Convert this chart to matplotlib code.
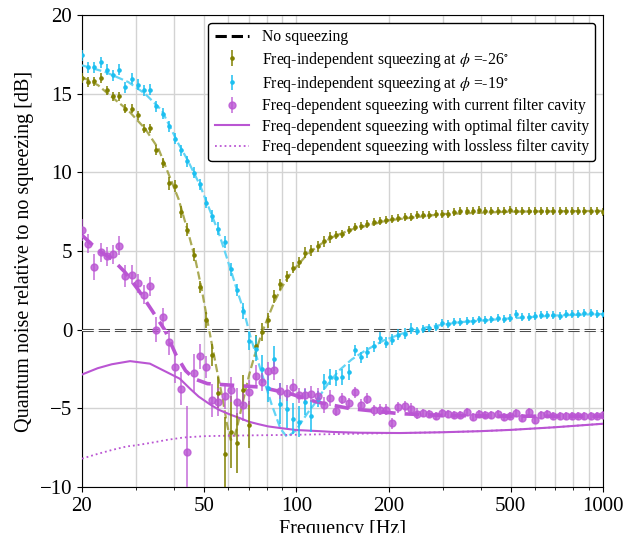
import numpy as np
import matplotlib
matplotlib.use('Agg')
import matplotlib.pyplot as plt
from matplotlib.ticker import FixedLocator, FixedFormatter, NullFormatter

plt.rcParams['font.family'] = ['Liberation Serif', 'DejaVu Serif']
plt.rcParams['mathtext.fontset'] = 'stix'
plt.rcParams['axes.unicode_minus'] = True

# measurement frequency bins [Hz]
freq = [20.0, 20.95, 21.95, 23.0, 24.09, 25.24, 26.45, 27.71, 29.03, 30.41,
        31.86, 33.38, 34.97, 36.64, 38.39, 40.22, 42.14, 44.15, 46.25, 48.46,
        50.77, 53.19, 55.72, 58.38, 61.16, 64.08, 67.14, 70.34, 73.69, 77.2,
        80.89, 84.74, 88.78, 93.01, 97.45, 102.1, 107.0, 112.0, 117.4, 123.0,
        128.9, 135.0, 141.4, 148.2, 155.3, 162.7, 170.4, 178.6, 187.1, 196.0,
        205.4, 215.1, 225.4, 236.1, 247.4, 259.2, 271.5, 284.5, 298.0, 312.2,
        327.1, 342.7, 359.0, 376.2, 394.1, 412.9, 432.5, 453.2, 474.8, 497.4,
        521.1, 545.9, 572.0, 599.2, 627.8, 657.7, 689.1, 721.9, 756.3, 792.4,
        830.2, 869.7, 911.2, 954.6, 1000.0]

# freq-independent squeezing, phi = -26 deg
fis26 = [16.0, 15.74, 15.79, 16.0, 15.21, 14.83, 14.83, 14.05, 14.05, 13.62,
         12.78, 12.8, 11.42, 10.6, 9.3, 9.12, 7.48, 6.36, 4.77, 2.71,
         0.6, -1.63, -4.0, -7.93, -6.51, -7.21, -3.86, -6.04, -1.06, -0.15,
         0.59, 2.12, 2.88, 3.39, 3.95, 4.3, 4.9, 5.04, 5.31, 5.63,
         5.87, 6.04, 6.1, 6.36, 6.5, 6.59, 6.69, 6.84, 6.93, 6.99,
         7.01, 7.09, 7.14, 7.18, 7.29, 7.29, 7.31, 7.33, 7.35, 7.35,
         7.48, 7.52, 7.52, 7.54, 7.61, 7.54, 7.54, 7.56, 7.56, 7.58,
         7.54, 7.56, 7.56, 7.56, 7.56, 7.56, 7.56, 7.56, 7.52, 7.54,
         7.56, 7.52, 7.52, 7.52, 7.48]
fis26_err = [0.3] * 14 + [0.4] * 6 + [0.5, 0.7, 1.0, 2.4, 2.3, 1.9, 1.0, 1.5, 0.7, 0.6,
             0.5, 0.4] + [0.35] * 9 + [0.25] * 44

# freq-independent squeezing, phi = -19 deg
fis19 = [17.44, 16.69, 16.69, 17.01, 16.53, 16.17, 16.53, 15.42, 15.96, 15.58,
         15.21, 15.26, 14.2, 13.73, 12.94, 12.14, 11.4, 10.7, 9.98, 9.25,
         8.07, 7.22, 6.42, 5.57, 3.84, 2.52, 1.17, -0.72, -1.2, -2.5,
         -3.7, -1.84, -4.7, -5.02, -5.65, -5.85, -4.6, -5.5, -4.4, -3.33,
         -3.01, -3.08, -3.01, -2.7, -1.32, -1.74, -1.42, -1.04, -0.53, -0.83,
         -0.64, -0.32, -0.25, 0.06, -0.06, 0.06, 0.1, 0.17, 0.42, 0.38,
         0.48, 0.48, 0.57, 0.53, 0.65, 0.61, 0.65, 0.74, 0.7, 0.74,
         0.99, 0.83, 0.83, 0.87, 0.95, 0.95, 0.91, 0.87, 0.99, 0.99,
         0.97, 1.04, 1.04, 1.02, 0.99]
fis19_err = [0.35] * 21 + [0.4] * 5 + [0.5, 0.6, 0.8, 0.9, 0.9, 0.8, 1.3, 1.2, 1.0, 1.0,
             0.8, 1.0] + [0.5] * 6 + [0.35] * 10 + [0.25] * 31

# freq-dependent squeezing, current filter cavity
fds = [6.31, 5.47, 3.98, 4.93, 4.66, 4.79, 5.34, 3.39, 3.5, 2.96,
       2.23, 2.75, 0.0, 0.8, -0.81, -2.38, -3.75, -7.78, -2.76, -1.7,
       -2.38, -4.49, -4.6, -4.24, -3.81, -4.6, -4.81, -3.97, -2.97, -3.33,
       -2.63, -2.59, -3.9, -4.03, -3.65, -4.18, -4.18, -4.07, -4.2, -4.81,
       -4.35, -5.15, -4.39, -4.67, -3.97, -4.76, -4.39, -5.11, -5.08, -5.08,
       -5.96, -4.92, -4.86, -5.02, -5.34, -5.28, -5.34, -5.49, -5.28, -5.34,
       -5.4, -5.45, -5.24, -5.56, -5.34, -5.4, -5.4, -5.37, -5.53, -5.49,
       -5.28, -5.62, -5.24, -5.77, -5.45, -5.37, -5.49, -5.49, -5.49, -5.49,
       -5.49, -5.49, -5.49, -5.49, -5.45]
fds_err = [0.7, 0.6, 0.8, 0.6, 0.6, 0.6, 0.6, 0.7, 0.6, 0.6,
           0.6, 0.6, 0.8, 0.6, 0.8, 1.0, 1.05, 2.9, 1.2, 0.8,
           0.7, 1.05, 0.9, 0.8, 0.8, 0.9, 1.0, 0.8, 0.7, 0.6,
           0.6, 0.6] + [0.5] * 9 + [0.35] * 14 + [0.25] * 30

# fits / models
fit26_f = [20, 22.6, 25, 28.3, 32.1, 35.5, 38.3, 41.3, 44.5, 46.8, 49.1, 51.7, 55.1,
           57.5, 59.4, 61.0, 62.5, 64.1, 67.1, 70.3, 73.7, 77.2, 80.9, 84.7, 88.8,
           93.0, 97.5, 107, 117, 130, 150, 200, 300, 500, 1000]
fit26_v = [16.06, 15.53, 14.79, 13.94, 12.78, 11.51, 9.9, 8.3, 6.1, 4.5, 2.6, 0.2, -2.6,
           -4.4, -6.0, -7.0, -6.9, -6.2, -4.5, -2.8, -1.4, -0.2, 0.8, 1.75, 2.55,
           3.2, 3.75, 4.65, 5.3, 5.85, 6.35, 6.95, 7.35, 7.5, 7.55]
fit19_f = [20, 23.8, 28.3, 32.1, 36.4, 41.3, 44.15, 46.25, 48.46, 50.77, 53.19, 55.72,
           58.38, 61.16, 64.08, 67.4, 70.9, 76.6, 82.9, 88.8, 93.3, 99.7, 108.4, 113.7,
           125.6, 137.7, 151.4, 166.2, 192, 221, 268, 344, 500, 700, 1000]
fit19_v = [16.8, 16.38, 15.74, 15.0, 13.94, 11.8, 10.8, 10.0, 9.2, 8.2, 7.2, 6.2,
           5.0, 3.77, 2.5, 1.2, -0.47, -2.59, -4.7, -6.3, -6.83, -6.4, -5.34, -4.81,
           -3.55, -2.6, -1.9, -1.38, -0.7, -0.25, 0.17, 0.48, 0.72, 0.9, 1.0]
fitfd_f = [20, 22.6, 25, 27.6, 30.6, 33.8, 37.3, 40.5, 43.5, 46.4, 51.3, 62.7, 76.3,
           95.5, 116.6, 149.9, 217.8, 300, 500, 1000]
fitfd_v = [6.0, 5.04, 4.51, 3.66, 2.5, 1.23, -0.04, -1.6, -2.6, -3.12, -3.43, -3.54,
           -3.65, -4.07, -4.6, -5.02, -5.34, -5.45, -5.5, -5.5]
opt_f = [20, 22.5, 25, 28.7, 33.3, 38.7, 41.7, 45, 48, 52.3, 56, 60.9, 65, 70, 75, 81,
         88.4, 100, 119, 131, 160, 218, 300, 400, 500, 700, 1000]
opt_v = [-2.85, -2.45, -2.2, -2.0, -2.16, -2.8, -3.12, -3.75, -4.25, -4.75, -5.1, -5.4,
         -5.6, -5.85, -6.0, -6.15, -6.25, -6.38, -6.45, -6.5, -6.55, -6.57, -6.52,
         -6.45, -6.37, -6.2, -5.98]
lossless_f = [20, 22, 25, 28, 30, 33.4, 38, 43, 50, 60, 70, 85, 100, 150, 200, 300,
              400, 500, 700, 1000]
lossless_v = [-8.2, -7.95, -7.65, -7.42, -7.35, -7.2, -7.0, -6.85, -6.77, -6.74, -6.72,
              -6.7, -6.68, -6.62, -6.58, -6.52, -6.45, -6.37, -6.2, -5.98]

olive = '#808000'
cyan = '#1cbff0'
purple = '#ba55d3'

fig = plt.figure(figsize=(6.36, 5.33), dpi=100)
ax = fig.add_axes([82 / 636, 1 - 487 / 533, 521 / 636, 472 / 533])

# no-squeezing reference line (drawn as a hollow dashed line, like the original)
ax.plot([20, 1000], [0, 0], color='#444444', ls='--', lw=2.2, zorder=3)
ax.plot([20, 1000], [0, 0], color='white', ls='-', lw=0.8, zorder=3.1)
h_no, = ax.plot([], [], color='k', ls='--', lw=2.2, label='No squeezing')

h26 = ax.errorbar(freq, fis26, yerr=fis26_err, fmt='o', ms=2.3, color=olive, elinewidth=1.1,
                  label=r'Freq-independent squeezing at $\phi$ =-26$^{\circ}$', zorder=4)
h19 = ax.errorbar(freq, fis19, yerr=fis19_err, fmt='o', ms=2.3, color=cyan, elinewidth=1.1,
                  label=r'Freq-independent squeezing at $\phi$ =-19$^{\circ}$', zorder=4)
hfd = ax.errorbar(freq, fds, yerr=fds_err, fmt='o', ms=5, color=purple, alpha=0.8,
                  elinewidth=1.2,
                  label='Freq-dependent squeezing with current filter cavity', zorder=4)

ax.plot(fit26_f, fit26_v, ls='--', color='#9c9c38', lw=1.6, alpha=0.85, zorder=3)
ax.plot(fit19_f, fit19_v, ls='--', color='#62d4f5', lw=1.6, zorder=3)
ax.plot(fitfd_f, fitfd_v, ls='--', color=purple, lw=2.6, dashes=(4, 2.5), zorder=3)
h_opt, = ax.plot(opt_f, opt_v, color=purple, lw=1.5,
                 label='Freq-dependent squeezing with optimal filter cavity', zorder=3)
h_ll, = ax.plot(lossless_f, lossless_v, color=purple, lw=1.3, ls=':',
                label='Freq-dependent squeezing with lossless filter cavity', zorder=3)

ax.set_xscale('log')
ax.set_xlim(20, 1000)
ax.set_ylim(-10, 20)
ax.xaxis.set_major_locator(FixedLocator([20, 50, 100, 200, 500, 1000]))
ax.xaxis.set_major_formatter(FixedFormatter(['20', '50', '100', '200', '500', '1000']))
ax.xaxis.set_minor_locator(FixedLocator([30, 40, 60, 70, 80, 90, 300, 400, 600, 700, 800, 900]))
ax.xaxis.set_minor_formatter(NullFormatter())
ax.set_yticks([-10, -5, 0, 5, 10, 15, 20])
ax.tick_params(labelsize=15)
ax.grid(True, which='both', color='#d3d3d3', lw=1.0)
ax.set_axisbelow(True)

ax.set_xlabel('Frequency [Hz]', fontsize=14.5, labelpad=3)
ax.set_ylabel('Quantum noise relative to no squeezing [dB]', fontsize=14.5)

handles = [h_no, h26, h19, hfd, h_opt, h_ll]
leg = ax.legend(handles=handles, labels=[h.get_label() for h in handles],
                loc='upper right', fontsize=11.3, framealpha=1, edgecolor='k',
                fancybox=True, handlelength=2.2, labelspacing=0.28)
leg.get_frame().set_linewidth(1.0)

fig.savefig('out.png', dpi=100)
